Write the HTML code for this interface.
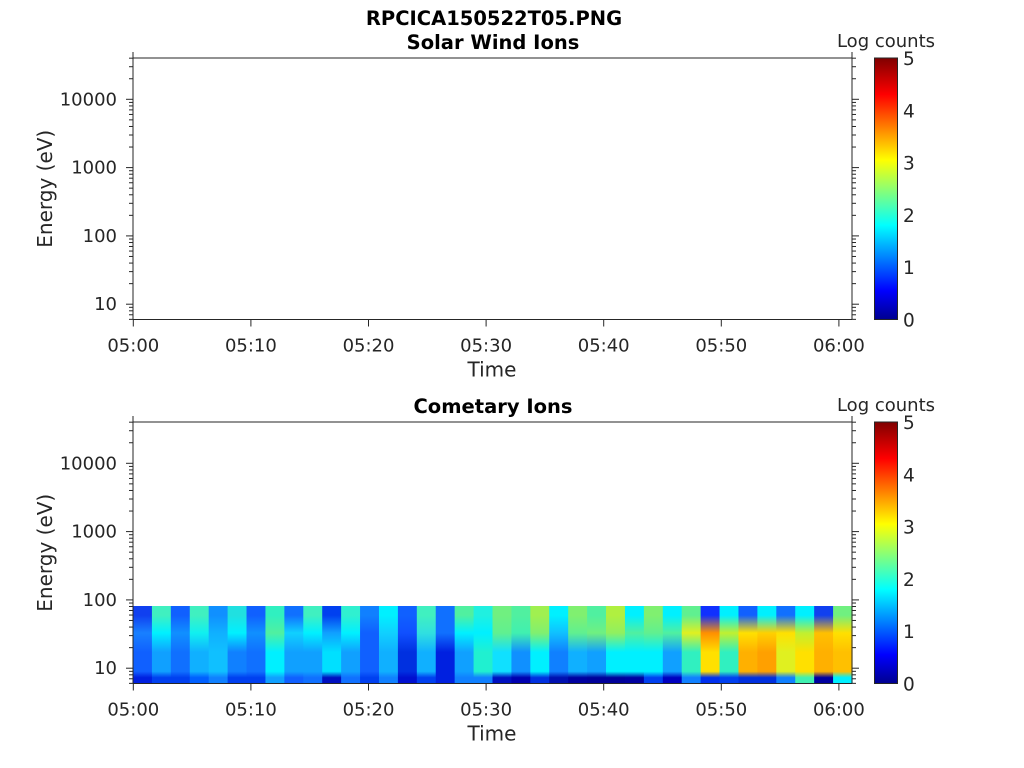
<!DOCTYPE html>
<html><head><meta charset="utf-8"><style>
html,body{margin:0;padding:0;background:#fff;width:1024px;height:768px;overflow:hidden}
svg{display:block}
text{font-family:"DejaVu Sans","Liberation Sans",sans-serif;fill:#262626}
</style></head><body>
<svg id="s" width="1024" height="768" xmlns="http://www.w3.org/2000/svg">
<defs>
<linearGradient id="jet" x1="0" y1="1" x2="0" y2="0">
<stop offset="0" stop-color="#00008f"/>
<stop offset="0.11" stop-color="#0000ff"/>
<stop offset="0.36" stop-color="#00ffff"/>
<stop offset="0.61" stop-color="#ffff00"/>
<stop offset="0.86" stop-color="#ff0000"/>
<stop offset="1" stop-color="#800000"/>
</linearGradient>
</defs>
<text x="494" y="25" text-anchor="middle" font-weight="bold" font-size="19.5" style="fill:#000">RPCICA150522T05.PNG</text>
<text x="493" y="49" text-anchor="middle" font-weight="bold" font-size="19.5" style="fill:#000">Solar Wind Ions</text>
<text x="493" y="413" text-anchor="middle" font-weight="bold" font-size="19.5" style="fill:#000">Cometary Ions</text>
<g id="g"></g>
</svg>
<script>
const g=document.getElementById('g');const NS='http://www.w3.org/2000/svg';
function el(t,a,txt){const e=document.createElementNS(NS,t);for(const k in a)e.setAttribute(k,a[k]);if(txt!==undefined)e.textContent=txt;g.appendChild(e);return e;}
function line(x1,y1,x2,y2,c){el('line',{x1,y1,x2,y2,stroke:c||'#262626','stroke-width':1});}
const cols=[
['#1040f0','#1880ff','#1060ff','#0020e0'],
['#40f0c0','#00f0ff','#10a0ff','#0040f0'],
['#1060ff','#1090ff','#1070ff','#0040f0'],
['#40f0c0','#10f0f0','#10b0ff','#0060ff'],
['#1090ff','#10b0ff','#10c0ff','#1080ff'],
['#20e0e0','#00f0ff','#1080ff','#0040f0'],
['#1060ff','#1090ff','#1070ff','#0040f0'],
['#30f0c0','#50f0a0','#00f0ff','#10a0ff'],
['#1070ff','#10d0ff','#10a0ff','#1060ff'],
['#40f0c0','#00f0ff','#10a0ff','#1070ff'],
['#0040f0','#10a0ff','#00e0ff','#0010c0'],
['#30f0d0','#00f0ff','#10a0ff','#1070ff'],
['#1080ff','#1060ff','#1060ff','#0040f0'],
['#00f0ff','#10d0ff','#10b0ff','#1080ff'],
['#1060ff','#1050ff','#0030e0','#0010d0'],
['#40f0c0','#30e0e0','#10b0ff','#0040f0'],
['#1070ff','#1070ff','#0020e0','#0020e0'],
['#50f0a0','#00f0ff','#10a0ff','#1080ff'],
['#20f0e0','#00f0ff','#20f0d0','#1080ff'],
['#70f080','#60f090','#10e0ff','#0010c0'],
['#50f0a0','#40f0b0','#1090ff','#0000b0'],
['#a0f050','#80f070','#00f0ff','#0030e0'],
['#00f0ff','#10c0ff','#1080ff','#0010b0'],
['#80f070','#60f090','#10b0ff','#0000a0'],
['#50f0a0','#70f080','#10a0ff','#00009a'],
['#b0f040','#90f060','#00f0ff','#00009a'],
['#00f0ff','#50f0a0','#00f0ff','#0000a0'],
['#80f070','#60f090','#00f0ff','#0040f0'],
['#00f0ff','#50f0a0','#10a0ff','#0000c0'],
['#60f090','#e0f020','#30f0c0','#1080ff'],
['#1030ff','#ff9000','#ffe000','#0030f0'],
['#00f0ff','#c0f030','#30f0c0','#0040f0'],
['#1060ff','#ffe000','#ffb000','#0030e0'],
['#00f0ff','#ffd000','#ffa000','#0030e0'],
['#1070ff','#ffe000','#e0f020','#1080ff'],
['#00f0ff','#c0f030','#ffe000','#40f0b0'],
['#1040f0','#ffc000','#ffb000','#0000a0'],
['#70f080','#ffe000','#ffc000','#00f0ff']];
const x0=133,x1=852,w=(x1-x0)/cols.length;
const defs=document.querySelector('defs');
cols.forEach((c,i)=>{
 const lg=document.createElementNS(NS,'linearGradient');lg.setAttribute('id','c'+i);lg.setAttribute('x1',0);lg.setAttribute('y1',0);lg.setAttribute('x2',0);lg.setAttribute('y2',1);
 [[0,c[0]],[0.12,c[0]],[0.35,c[1]],[0.6,c[2]],[0.85,c[2]],[0.93,c[3]],[1,c[3]]].forEach(s=>{const st=document.createElementNS(NS,'stop');st.setAttribute('offset',s[0]);st.setAttribute('stop-color',s[1]);lg.appendChild(st);});
 defs.appendChild(lg);
 el('rect',{x:x0+i*w,y:606,width:w+0.6,height:77,fill:'url(#c'+i+')'});
});
function panel(top,bot){
 const y10=bot-15.3, dec=68.3;
 line(133,top,852,top);line(133,bot,852,bot);line(133,top-6,133,bot);line(852,top-6,852,bot);
 for(let d=0;d<=4;d++){for(let m=1;m<=9;m++){const y=y10-(d+Math.log10(m))*dec;if(y<top-6||y>bot)continue;const L=m==1?7:4;line(133-L,y,133,y);line(852,y,852+L,y);}}
 for(let m=6;m<=9;m++){const y=y10-(Math.log10(m)-1)*dec;if(y<=bot){line(129,y,133,y);line(852,y,856,y);}}
 ['10','100','1000','10000'].forEach((t,i)=>el('text',{x:117,y:y10-i*dec+6,'text-anchor':'end','font-size':'18'},t));
 const labs=['05:00','05:10','05:20','05:30','05:40','05:50','06:00'];
 labs.forEach((t,i)=>{const x=133.3+i*117.6;line(x,bot,x,bot+7);el('text',{x:x,y:bot+32,'text-anchor':'middle','font-size':'18'},t);});
 el('text',{x:492,y:bot+57,'text-anchor':'middle','font-size':'20'},'Time');
 const cy=(top+bot)/2;el('text',{x:52,y:cy,'text-anchor':'middle','font-size':'20',transform:'rotate(-90 52 '+cy+')'},'Energy (eV)');
 el('rect',{x:874.5,y:top,width:23,height:bot-top,fill:'url(#jet)',stroke:'#262626','stroke-width':1});
 for(let k=0;k<=5;k++){const y=bot-k*(bot-top)/5;el('text',{x:903,y:y+7,'font-size':'18.5'},String(k));}
 el('text',{x:886,y:top-11,'text-anchor':'middle','font-size':'18'},'Log counts');
}
panel(58,319.5);panel(422,683.5);
</script>
</body></html>
